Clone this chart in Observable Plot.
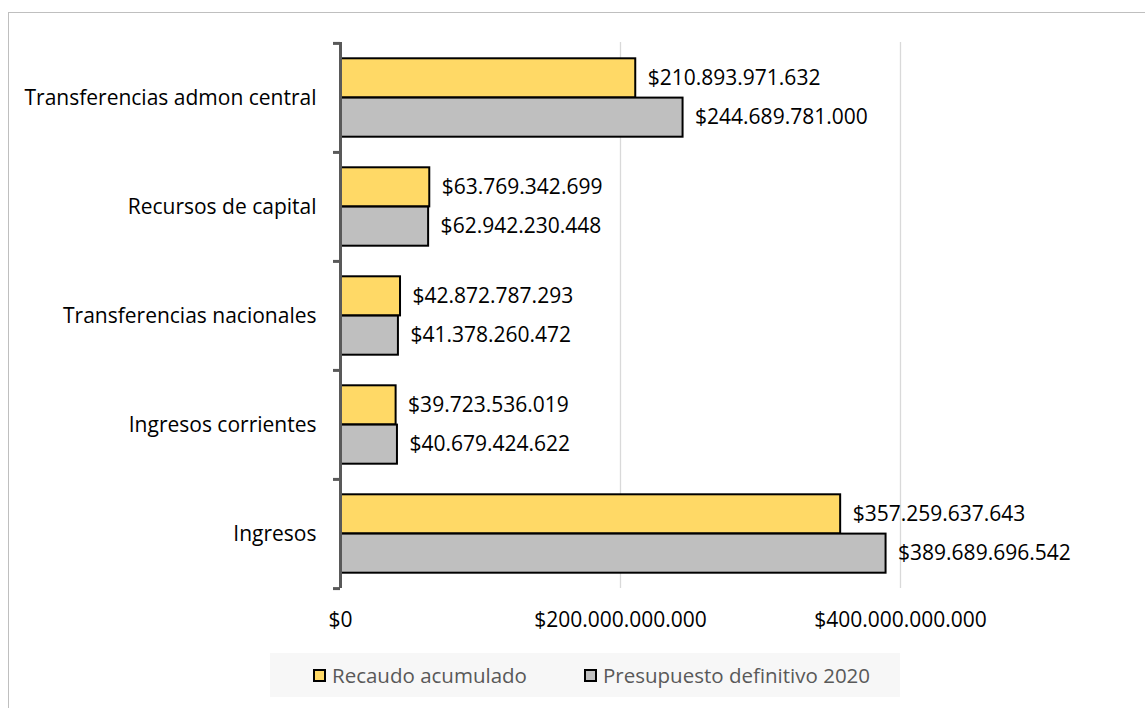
<!DOCTYPE html>
<html>
<head>
<meta charset="utf-8">
<script src="https://cdn.jsdelivr.net/npm/d3@7"></script>
<script src="https://cdn.jsdelivr.net/npm/@observablehq/plot@0.6"></script>
<style>
  html, body { margin: 0; padding: 0; background: #fff; }
  body { width: 1145px; height: 708px; position: relative; overflow: hidden; font-family: "Open Sans", Lato, sans-serif; }
  #frame { position: absolute; left: 8px; top: 12px; width: 1160px; height: 720px; border: 1px solid #bfbfbf; border-width: 1px 0 0 1px; }
  #chart { position: absolute; left: 0; top: 0; }
  #legend { position: absolute; left: 270px; top: 653px; width: 630px; height: 44px; background: #f7f7f7;
    font-size: 20.5px; color: #595959; }
  .item { display: flex; align-items: center; position: absolute; top: 0; height: 44px; }
  .sw { width: 13px; height: 13px; border: 2px solid #000; margin-right: 6px; box-sizing: border-box; }
</style>
</head>
<body>
<div id="frame"></div>
<div id="chart"></div>
<div id="legend"></div>
<script>
const categories = ["Transferencias admon central", "Recursos de capital", "Transferencias nacionales", "Ingresos corrientes", "Ingresos"];
const recaudo = [210893971632, 63769342699, 42872787293, 39723536019, 357259637643];
const presupuesto = [244689781000, 62942230448, 41378260472, 40679424622, 389689696542];
const seriesNames = ["Recaudo acumulado", "Presupuesto definitivo 2020"];
const seriesColors = ["#FFD966", "#BFBFBF"];
const xTicks = [0, 200000000000, 400000000000];

const loc = d3.formatLocale({decimal: ",", thousands: ".", grouping: [3], currency: ["$", ""]});
const fmt = loc.format("$,.0f");

const recData = categories.map((c, i) => ({cat: c, value: recaudo[i]}));
const preData = categories.map((c, i) => ({cat: c, value: presupuesto[i]}));
const bottomCat = categories[categories.length - 1];

const plot = Plot.plot({
  width: 1145,
  height: 645,
  marginLeft: 340,
  marginRight: 245,
  marginTop: 42,
  marginBottom: 57,
  style: {fontFamily: "'Open Sans', Lato, sans-serif", fontSize: "21px", color: "#000", background: "transparent"},
  x: {domain: [0, 400000000000], axis: null},
  y: {domain: categories, padding: 0, axis: null},
  marks: [
    Plot.ruleX(xTicks.slice(1), {stroke: "#d9d9d9", strokeWidth: 1.3}),
    Plot.barX(recData, {y: "cat", x: "value", fill: seriesColors[0], stroke: "#000", strokeWidth: 2, insetTop: 15.3, insetBottom: 54.6}),
    Plot.barX(preData, {y: "cat", x: "value", fill: seriesColors[1], stroke: "#000", strokeWidth: 2, insetTop: 54.6, insetBottom: 15.3}),
    Plot.text(recData, {y: "cat", x: "value", text: d => fmt(d.value), textAnchor: "start", dx: 12, dy: -19.5, fill: "#000", fontSize: 21}),
    Plot.text(preData, {y: "cat", x: "value", text: d => fmt(d.value), textAnchor: "start", dx: 12, dy: 19.5, fill: "#000", fontSize: 21}),
    Plot.ruleX([0], {stroke: "#595959", strokeWidth: 3}),
    Plot.ruleY(categories, {y: d => d, x1: -5000000000, x2: 0, dy: -54.6, stroke: "#595959", strokeWidth: 3}),
    Plot.ruleY([bottomCat], {y: d => d, x1: -5000000000, x2: 0, dy: 54.6, stroke: "#595959", strokeWidth: 3}),
    Plot.axisY({tickSize: 0, tickPadding: 24, fontSize: 21, fill: "#000", label: null}),
    Plot.axisX({ticks: xTicks, tickFormat: fmt, tickSize: 0, tickPadding: 24, fontSize: 21, fill: "#000", label: null})
  ]
});
document.getElementById("chart").appendChild(plot);

const legend = document.getElementById("legend");
const lx = [43, 314];
seriesNames.forEach((name, i) => {
  const it = document.createElement("div");
  it.className = "item";
  it.style.left = lx[i] + "px";
  const sw = document.createElement("div");
  sw.className = "sw";
  sw.style.background = seriesColors[i];
  const t = document.createElement("span");
  t.textContent = name;
  it.appendChild(sw);
  it.appendChild(t);
  legend.appendChild(it);
});
</script>
</body>
</html>
